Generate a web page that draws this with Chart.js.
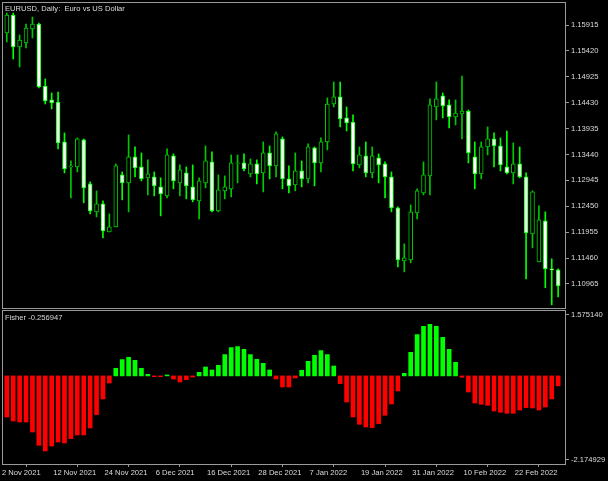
<!DOCTYPE html>
<html>
<head>
<meta charset="utf-8">
<script src="https://cdn.jsdelivr.net/npm/chart.js@4.4.1/dist/chart.umd.min.js"></script>
<style>
  html, body { margin: 0; padding: 0; background: #000; }
  #wrap { position: relative; width: 608px; height: 481px; overflow: hidden; background: #000; }
  #price { position: absolute; left: 0; top: 0; }
  #fisher { position: absolute; left: 0; top: 310px; }
  .lbl { position: absolute; left: 5px; color: #dcdcdc; font: 7.6px "Liberation Sans", Arial, sans-serif; line-height: 12px; white-space: pre; }
</style>
</head>
<body>
<div id="wrap">
  <canvas id="price" width="608" height="310"></canvas>
  <canvas id="fisher" width="608" height="171"></canvas>
  <div class="lbl" style="top:3px">EURUSD, Daily:  Euro vs US Dollar</div>
  <div class="lbl" style="top:312px">Fisher -0.256947</div>
</div>
<script>
// daily candles, 2 Nov 2021 .. 3 Mar 2022
const opens = [
  1.16030, 1.15762, 1.16106, 1.15495, 1.15571, 1.15839, 1.15934, 1.14750, 1.14483, 1.14444,
  1.13680, 1.13203, 1.13203, 1.13719, 1.12878, 1.12343, 1.12497, 1.11961, 1.12057, 1.13050,
  1.12897, 1.13394, 1.13203, 1.12993, 1.13012, 1.12821, 1.12649, 1.13413, 1.12897, 1.13088,
  1.12821, 1.12554, 1.12897, 1.13298, 1.12362, 1.12744, 1.12783, 1.13270, 1.13279, 1.13069,
  1.13260, 1.13088, 1.13470, 1.13222, 1.13738, 1.12974, 1.12859, 1.13126, 1.12974, 1.13566,
  1.13279, 1.13680, 1.14406, 1.14540, 1.14139, 1.14062, 1.13241, 1.13413, 1.13088, 1.13375,
  1.13260, 1.13012, 1.12420, 1.11407, 1.11427, 1.12324, 1.12706, 1.13031, 1.14349, 1.14559,
  1.14387, 1.14158, 1.14215, 1.14272, 1.13394, 1.13069, 1.13585, 1.13738, 1.13604, 1.13203,
  1.13088, 1.13260, 1.13012, 1.11923, 1.11388, 1.12171, 1.11255, 1.11236
];
const highs = [
  1.16068, 1.16144, 1.16144, 1.15724, 1.15934, 1.16068, 1.15953, 1.14884, 1.14616, 1.14635,
  1.13852, 1.13317, 1.13757, 1.13738, 1.12916, 1.12744, 1.12554, 1.12305, 1.13260, 1.13107,
  1.13814, 1.13585, 1.13470, 1.13337, 1.13107, 1.12993, 1.13547, 1.13451, 1.13241, 1.13203,
  1.13241, 1.12993, 1.13604, 1.13489, 1.13050, 1.13031, 1.13432, 1.13432, 1.13451, 1.13356,
  1.13337, 1.13680, 1.13604, 1.13871, 1.13776, 1.13222, 1.13470, 1.13317, 1.13642, 1.13585,
  1.13757, 1.14521, 1.14826, 1.14826, 1.14349, 1.14196, 1.13585, 1.13680, 1.13585, 1.13451,
  1.13298, 1.13107, 1.12439, 1.11732, 1.12477, 1.12783, 1.13298, 1.14502, 1.14826, 1.14616,
  1.14483, 1.14483, 1.14941, 1.14291, 1.13680, 1.13680, 1.13967, 1.13852, 1.13757, 1.13890,
  1.13661, 1.13585, 1.13088, 1.12744, 1.12458, 1.12343, 1.11446, 1.11255
];
const lows = [
  1.15724, 1.15590, 1.15266, 1.15113, 1.15476, 1.15667, 1.14712, 1.14406, 1.14311, 1.13547,
  1.13088, 1.12611, 1.13107, 1.12516, 1.12305, 1.12248, 1.11847, 1.11961, 1.12057, 1.12573,
  1.12343, 1.13012, 1.12935, 1.12668, 1.12649, 1.12267, 1.12611, 1.12783, 1.12649, 1.12592,
  1.12535, 1.12210, 1.12802, 1.12343, 1.12343, 1.12592, 1.12630, 1.12897, 1.13126, 1.13012,
  1.12878, 1.12725, 1.12974, 1.13012, 1.12783, 1.12706, 1.12744, 1.12821, 1.12897, 1.12840,
  1.13107, 1.13528, 1.14349, 1.13967, 1.13890, 1.13126, 1.13184, 1.13012, 1.12993, 1.12897,
  1.12611, 1.12343, 1.11293, 1.11197, 1.11369, 1.12210, 1.12668, 1.12668, 1.14101, 1.14139,
  1.13948, 1.14005, 1.13738, 1.13279, 1.12783, 1.12974, 1.13432, 1.13203, 1.13126, 1.13069,
  1.12878, 1.12993, 1.11064, 1.11656, 1.11388, 1.10893, 1.10567, 1.10720
];
const closes = [
  1.15762, 1.16106, 1.15495, 1.15629, 1.15858, 1.15934, 1.14731, 1.14464, 1.14425, 1.13661,
  1.13165, 1.13222, 1.13738, 1.12802, 1.12362, 1.12497, 1.11980, 1.12057, 1.13222, 1.12897,
  1.13394, 1.13184, 1.12974, 1.13069, 1.12840, 1.12687, 1.13432, 1.12935, 1.13146, 1.12840,
  1.12573, 1.12935, 1.13317, 1.12362, 1.12764, 1.12821, 1.13279, 1.13279, 1.13165, 1.13260,
  1.13069, 1.13470, 1.13222, 1.13833, 1.12974, 1.12840, 1.13126, 1.12974, 1.13585, 1.13279,
  1.13680, 1.14406, 1.14540, 1.14120, 1.14043, 1.13260, 1.13432, 1.13088, 1.13413, 1.13241,
  1.13012, 1.12420, 1.11427, 1.11465, 1.12343, 1.12744, 1.13050, 1.14387, 1.14502, 1.14368,
  1.14158, 1.14234, 1.14272, 1.13470, 1.13069, 1.13585, 1.13738, 1.13604, 1.13241, 1.13088,
  1.13260, 1.13012, 1.11942, 1.12725, 1.12191, 1.11255, 1.11236, 1.10930
];
// Fisher histogram, one value per candle
const fisher = [
  -0.934, -1.063, -1.166, -1.192, -1.192, -1.451, -1.795, -1.942, -1.813, -1.709,
  -1.735, -1.621, -1.528, -1.528, -1.347, -1.001, -0.597, -0.184, 0.197, 0.422,
  0.481, 0.403, 0.197, 0.041, -0.020, -0.020, 0.025, -0.080, -0.158, -0.096,
  -0.030, 0.093, 0.230, 0.153, 0.274, 0.551, 0.732, 0.758, 0.688, 0.551,
  0.429, 0.326, 0.153, -0.080, -0.287, -0.287, -0.054, 0.145, 0.378, 0.533,
  0.654, 0.551, 0.256, -0.199, -0.675, -1.063, -1.252, -1.321, -1.337, -1.234,
  -1.019, -0.727, -0.390, 0.067, 0.610, 1.068, 1.283, 1.334, 1.283, 0.998,
  0.688, 0.352, -0.036, -0.416, -0.701, -0.734, -0.760, -0.908, -0.941, -0.967,
  -0.967, -0.882, -0.820, -0.830, -0.882, -0.804, -0.597, -0.256947
];
// one date label every 8 bars
const dateTicks = ['2 Nov 2021', '12 Nov 2021', '24 Nov 2021', '6 Dec 2021', '16 Dec 2021', '28 Dec 2021',
  '7 Jan 2022', '19 Jan 2022', '31 Jan 2022', '10 Feb 2022', '22 Feb 2022'];
const priceTicks = [1.15915, 1.15420, 1.14925, 1.14430, 1.13935, 1.13440, 1.12945, 1.12450, 1.11955, 1.11460, 1.10965];
const fisherTicks = [1.575140, -2.174929];

const idx = opens.map((_, i) => i);
const bull = i => closes[i] >= opens[i];

const labelFont = { family: '"Liberation Sans", Arial, sans-serif', size: 7.6 };
const textColor = '#dcdcdc';
const frameColor = '#9a9a9a';
const clipBox = { left: -3, top: 0, right: 0, bottom: 0 };

// grey frame round each window
const frame = {
  id: 'frame',
  afterDraw(chart) {
    const { ctx, chartArea: a } = chart;
    ctx.save();
    ctx.strokeStyle = frameColor;
    ctx.lineWidth = 1;
    ctx.strokeRect(2.5, a.top - 0.5, a.right - 2, a.bottom - a.top + 1);
    ctx.restore();
  }
};

// keep the plot area fixed: no extra room for the end labels
function fixSide(size) {
  return s => {
    if (s.isHorizontal()) s.height = size; else s.width = size;
    s.paddingTop = 0; s.paddingBottom = 0; s.paddingLeft = 0; s.paddingRight = 0;
  };
}

const xRange = { type: 'linear', min: -0.06, max: 88.07, offset: false };

new Chart(document.getElementById('price'), {
  type: 'bar',
  data: {
    datasets: [
      {
        label: 'body',
        order: 0,
        data: idx.map(i => ({ x: i, y: [opens[i], closes[i]] })),
        backgroundColor: idx.map(i => bull(i) ? '#000000' : '#ffffff'),
        borderColor: idx.map(i => bull(i) ? '#00c800' : '#00ff00'),
        borderWidth: 1,
        borderSkipped: false,
        barThickness: 4,
        maxBarThickness: 4,
        grouped: false,
        clip: clipBox
      },
      {
        label: 'wick',
        order: 1,
        data: idx.map(i => ({ x: i, y: [lows[i], highs[i]] })),
        backgroundColor: idx.map(i => bull(i) ? '#00c800' : '#00ff00'),
        borderWidth: 0,
        barThickness: 1,
        maxBarThickness: 1,
        grouped: false,
        clip: clipBox
      }
    ]
  },
  options: {
    responsive: false,
    animation: false,
    events: [],
    layout: { padding: { left: 0, top: 3, right: 0, bottom: 2 } },
    plugins: { legend: { display: false }, tooltip: { enabled: false } },
    scales: {
      x: Object.assign({ display: false }, xRange),
      y: {
        position: 'right',
        min: 1.105063,
        max: 1.163355,
        afterFit: fixSide(43),
        afterBuildTicks: s => { s.ticks = priceTicks.map(v => ({ value: v })); },
        ticks: { color: textColor, font: labelFont, padding: 2, autoSkip: false, callback: v => v.toFixed(5) },
        grid: { drawOnChartArea: false, drawTicks: true, tickLength: 4, color: frameColor },
        border: { display: false }
      }
    }
  },
  plugins: [frame]
});

new Chart(document.getElementById('fisher'), {
  type: 'bar',
  data: {
    datasets: [{
      label: 'Fisher',
      data: idx.map(i => ({ x: i, y: fisher[i] })),
      backgroundColor: fisher.map(v => v >= 0 ? '#00ff00' : '#ff0000'),
      borderWidth: 0,
      barThickness: 4,
      maxBarThickness: 4,
      grouped: false,
      clip: clipBox
    }]
  },
  options: {
    responsive: false,
    animation: false,
    events: [],
    layout: { padding: { left: 0, top: 1, right: 0, bottom: 0 } },
    plugins: { legend: { display: false }, tooltip: { enabled: false } },
    scales: {
      x: Object.assign({
        afterFit: fixSide(17),
        afterBuildTicks: s => { s.ticks = dateTicks.map((_, k) => ({ value: k * 8 })); },
        ticks: {
          color: textColor, font: labelFont, align: 'start', autoSkip: false,
          maxRotation: 0, minRotation: 0, padding: 1, labelOffset: 1.5,
          callback: (v, k) => dateTicks[k]
        },
        grid: { drawOnChartArea: false, drawTicks: true, tickLength: 3, color: frameColor },
        border: { display: false }
      }, xRange),
      y: {
        position: 'right',
        min: -2.27838,
        max: 1.67859,
        afterFit: fixSide(43),
        afterBuildTicks: s => { s.ticks = fisherTicks.map(v => ({ value: v })); },
        ticks: { color: textColor, font: labelFont, padding: 2, autoSkip: false, callback: v => v.toFixed(6) },
        grid: { drawOnChartArea: false, drawTicks: true, tickLength: 4, color: frameColor },
        border: { display: false }
      }
    }
  },
  plugins: [frame]
});
</script>
</body>
</html>
